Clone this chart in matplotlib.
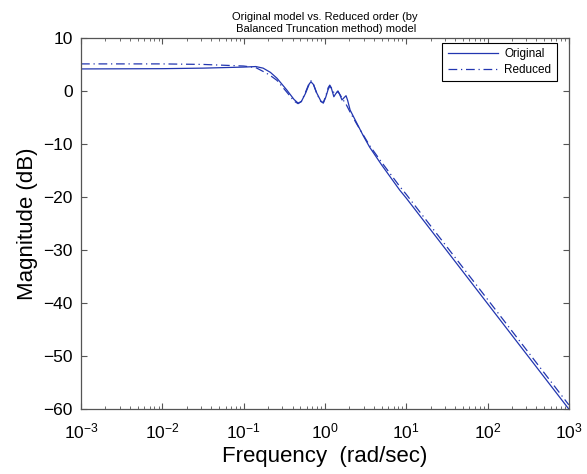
import matplotlib
matplotlib.use("Agg")
import matplotlib.pyplot as plt
import numpy as np
from matplotlib.ticker import FixedLocator, NullFormatter, LogFormatterMathtext

plt.rcParams['font.family'] = ['Liberation Sans', 'DejaVu Sans']
plt.rcParams['mathtext.fontset'] = 'custom'
plt.rcParams['mathtext.rm'] = 'Liberation Sans'
plt.rcParams['mathtext.it'] = 'Liberation Sans:italic'
plt.rcParams['mathtext.bf'] = 'Liberation Sans:bold'

# log10(frequency) and magnitude in dB
orig_logw = [-3.0, -2.0, -1.5, -1.0, -0.85, -0.76, -0.67, -0.59, -0.47, -0.38, -0.33,
             -0.29, -0.24, -0.19, -0.17, -0.14, -0.10, -0.05, -0.02, 0.01, 0.04, 0.06,
             0.08, 0.11, 0.13, 0.16, 0.18, 0.21, 0.24, 0.26, 0.28, 0.31, 0.39, 0.47,
             0.55, 0.70, 0.92, 1.0, 2.0, 3.0]
orig_db = [4.15, 4.2, 4.3, 4.5, 4.6, 4.3, 3.5, 2.4, 0.2, -1.6, -2.3,
           -2.0, -0.5, 1.4, 1.7, 1.2, -0.4, -1.9, -2.3, -1.2, 0.3, 0.9,
           0.5, -1.1, -0.6, 0.0, -0.6, -1.7, -1.2, -0.9, -1.8, -3.6, -6.0, -8.4,
           -10.6, -14.0, -18.7, -20.2, -40.1, -60.0]

red_logw = [-3.0, -2.0, -1.5, -1.0, -0.85, -0.75, -0.68, -0.59, -0.47, -0.38, -0.33,
            -0.29, -0.24, -0.19, -0.17, -0.14, -0.10, -0.05, -0.02, 0.01, 0.04, 0.06,
            0.09, 0.12, 0.16, 0.19, 0.22, 0.26, 0.31, 0.39, 0.55, 0.70, 0.92, 1.0,
            2.0, 3.0]
red_db = [5.1, 5.1, 5.0, 4.7, 4.4, 3.6, 3.0, 2.0, -0.2, -1.9, -2.4,
          -2.0, -0.3, 1.6, 1.9, 1.2, -0.5, -2.0, -2.2, -1.0, 0.6, 1.1,
          0.3, -0.6, -0.1, -0.8, -1.6, -2.5, -4.0, -6.2, -10.3, -13.5, -18.0, -19.5,
          -39.3, -59.2]

title = "Original model vs. Reduced order (by\n Balanced Truncation method) model"
xlabel = "Frequency  (rad/sec)"
ylabel = "Magnitude (dB)"
yticks = [10, 0, -10, -20, -30, -40, -50, -60]
xdecades = [-3, -2, -1, 0, 1, 2, 3]

fig = plt.figure(figsize=(5.87, 4.74), dpi=100)
ax = fig.add_axes([0.138, 0.137, 0.831, 0.783])

line_color = '#2236b0'
ax.plot(10 ** np.array(orig_logw), orig_db, color=line_color, lw=0.9, label='Original')
ax.plot(10 ** np.array(red_logw), red_db, color=line_color, lw=0.9,
        linestyle=(0, (7, 3, 1, 3)), label='Reduced')

ax.set_xscale('log')
ax.set_xlim(1e-3, 1e3)
ax.set_ylim(-60, 10)
ax.yaxis.set_major_locator(FixedLocator(yticks))
major_x = [10.0 ** d for d in xdecades]
minor_x = [m * 10.0 ** d for d in xdecades[:-1] for m in range(2, 10)]
ax.xaxis.set_major_locator(FixedLocator(major_x))
ax.xaxis.set_minor_locator(FixedLocator(minor_x))
ax.xaxis.set_major_formatter(LogFormatterMathtext())
ax.xaxis.set_minor_formatter(NullFormatter())

edge = '#555555'
for s in ax.spines.values():
    s.set_color(edge)
    s.set_linewidth(0.9)
ax.tick_params(which='both', direction='in', top=True, right=True, color=edge,
               labelsize=12.5, labelcolor='black')
ax.tick_params(which='major', length=4)
ax.tick_params(which='minor', length=2)
ax.tick_params(axis='x', which='major', pad=9)
ax.tick_params(axis='y', which='major', pad=6)

ax.set_xlabel(xlabel, fontsize=16, labelpad=3)
ax.set_ylabel(ylabel, fontsize=16, labelpad=4)
ax.set_title(title, fontsize=8, pad=4, linespacing=1.3)

leg = ax.legend(loc='upper right', bbox_to_anchor=(0.975, 0.9865), fontsize=8.5,
                frameon=True, fancybox=False, edgecolor='black', framealpha=1,
                handlelength=4.3, borderaxespad=0.0, borderpad=0.45,
                labelspacing=0.3, handletextpad=0.5)
leg.get_frame().set_linewidth(0.8)

fig.savefig('out.png', dpi=100)
